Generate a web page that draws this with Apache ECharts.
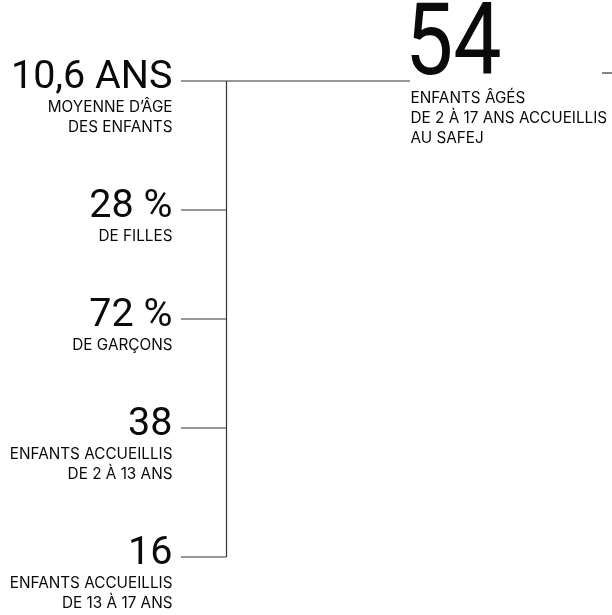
<!DOCTYPE html>
<html>
<head>
<meta charset="utf-8">
<script src="https://cdn.jsdelivr.net/npm/echarts@6/dist/echarts.min.js"></script>
<style>
html,body{margin:0;padding:0;background:#fff;}
#chart{width:612px;height:615px;}
</style>
</head>
<body>
<div id="chart"></div>
<script>
// ---- data ----
const statValues = ['10,6 ANS', '28 %', '72 %', '38', '16'];
const statCaptions = [
  ['MOYENNE D’ÂGE', 'DES ENFANTS'],
  ['DE FILLES'],
  ['DE GARÇONS'],
  ['ENFANTS ACCUEILLIS', 'DE 2 À 13 ANS'],
  ['ENFANTS ACCUEILLIS', 'DE 13 À 17 ANS']
];
const totalValue = '54';
const totalCaption = ['ENFANTS ÂGÉS', 'DE 2 À 17 ANS ACCUEILLIS', 'AU SAFEJ'];

// ---- layout ----
const BIGFONT = 'Roboto';
const FONT = 'Inter';
const L = {
  firstY: 81, rowBase: 89, capLine: 20,
  textRight: 172.5, tickX0: 181, spineX: 226.5,
  bigFont: 39.5, bigDy: -3, smallFont: 15.3, capDy: 26.5,
  topLineEnd: 410, totalX: 405, totalFont: 100, totalScaleX: 0.86, totalDy: -32,
  totalCapX: 410.5, totalCapDy: 17.5, stubX0: 602, stubX1: 612, stubY: 73,
  lineColor: '#333', lineWidth: 1.2, textColor: '#0a0a0a'
};

function rowY(i) {
  let y = L.firstY;
  for (let k = 0; k < i; k++) y += L.rowBase + L.capLine * statCaptions[k].length;
  return y;
}

function line(x1, y1, x2, y2) {
  return { type: 'line', shape: { x1, y1, x2, y2 }, style: { stroke: L.lineColor, lineWidth: L.lineWidth } };
}

function renderStat(params) {
  const i = params.dataIndex;
  const y = rowY(i);
  const children = [];
  children.push({
    type: 'text',
    style: { text: statValues[i], x: L.textRight, y: y + L.bigDy, align: 'right', verticalAlign: 'middle',
      fontFamily: BIGFONT, fontSize: L.bigFont, fill: L.textColor }
  });
  statCaptions[i].forEach((c, j) => {
    children.push({
      type: 'text',
      style: { text: c, x: L.textRight, y: y + L.capDy + j * L.capLine, align: 'right', verticalAlign: 'middle',
        fontFamily: FONT, fontSize: L.smallFont, fill: L.textColor }
    });
  });
  children.push(line(L.tickX0, y, L.spineX, y));
  if (i === 0) {
    children.push(line(L.spineX, y, L.topLineEnd, y));
    children.push(line(L.spineX, y, L.spineX, rowY(statValues.length - 1)));
  }
  return { type: 'group', children };
}

function renderTotal() {
  const y = L.firstY;
  const children = [{
    type: 'text',
    x: L.totalX, y: y + L.totalDy, scaleX: L.totalScaleX,
    style: { text: totalValue, x: 0, y: 0, align: 'left', verticalAlign: 'middle',
      fontFamily: BIGFONT, fontSize: L.totalFont, fill: L.textColor }
  }];
  totalCaption.forEach((c, j) => {
    children.push({
      type: 'text',
      style: { text: c, x: L.totalCapX, y: y + L.totalCapDy + j * L.capLine, align: 'left', verticalAlign: 'middle',
        fontFamily: FONT, fontSize: L.smallFont, fill: L.textColor }
    });
  });
  children.push(line(L.stubX0, L.stubY, L.stubX1, L.stubY));
  return { type: 'group', children };
}

const chart = echarts.init(document.getElementById('chart'), null, { renderer: 'canvas' });
chart.setOption({
  animation: false,
  backgroundColor: '#fff',
  series: [
    { type: 'custom', coordinateSystem: 'none', data: statValues.map((v, i) => [i]), renderItem: renderStat, silent: true },
    { type: 'custom', coordinateSystem: 'none', data: [[0]], renderItem: renderTotal, silent: true }
  ]
});
</script>
</body>
</html>
